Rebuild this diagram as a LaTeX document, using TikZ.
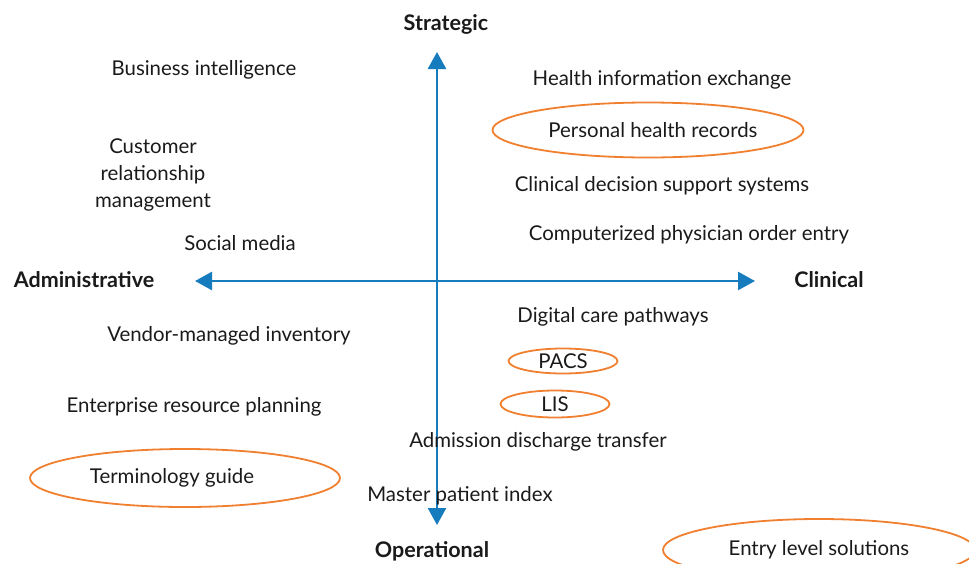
\documentclass[tikz,border=0pt]{standalone}
\usepackage{fontspec}
\setmainfont{Lato}
\usetikzlibrary{arrows.meta,shapes.geometric}
\definecolor{axisblue}{RGB}{22,124,190}
\definecolor{ringorange}{RGB}{240,128,48}
\definecolor{textblack}{RGB}{26,26,26}

\begin{document}
\begin{tikzpicture}[x=1pt,y=-1pt,
    item/.style={text=textblack,font=\fontsize{20.4}{27}\selectfont,align=center,inner sep=0pt},
    pole/.style={item,font=\fontsize{21.5}{27}\selectfont\bfseries},
    ring/.style={item,ellipse,draw=ringorange,line width=1.8pt},
    axis/.style={axisblue,line width=2.6pt,{Triangle[length=17pt,width=18pt]}-{Triangle[length=17pt,width=18pt]}}]

        \useasboundingbox (0,0) rectangle (969,563);
        \clip (0,0) rectangle (969,563);

        %% axes
        \coordinate (top) at (437,52);
        \coordinate (bottom) at (437,525);
        \coordinate (left) at (195,281);
        \coordinate (right) at (755,281);
        \draw[axis] (bottom) -- (top); % vertical
        \draw[axis] (left) -- (right); % horizontal

        % poles
        \node[pole] (strategic) at (446,24) {Strategic};
        \node[pole] (administrative) at (84,280) {Administrative};
        \node[pole] (clinical) at (829,280) {Clinical};
        \node[pole] (operational) at (432,551) {Operational};

        % items
        \node[item] (bi) at (204,70) {Business intelligence};
        \node[item] (hie) at (662,80) {Health information exchange};
        \node[item] (crm) at (153,175) {Customer\\relationship\\management};
        \node[item] (cdss) at (662,186) {Clinical decision support systems};
        \node[item] (social) at (240,243) {Social media};
        \node[item] (cpoe) at (689,235) {Computerized physician order entry};
        \node[item] (pathways) at (613,317) {Digital care pathways};
        \node[item] (vmi) at (229,336) {Vendor-managed inventory};
        \node[item] (erp) at (194,407) {Enterprise resource planning};
        \node[item] (adt) at (538,442) {Admission discharge transfer};
        \node[item] (mpi) at (460,496) {Master patient index};

        % circled items
        \node[ring,minimum width=311pt,minimum height=55pt] (phr) at (648,130) {Personal health records\hspace*{-10pt}};
        \node[ring,minimum width=109pt,minimum height=25pt] (pacs) at (563,361) {PACS};
        \node[ring,minimum width=109pt,minimum height=27pt] (lis) at (555,404) {LIS};
        \node[ring,minimum width=310pt,minimum height=58pt] (terms) at (185,478) {\hspace*{-26pt}Terminology guide};
        \node[ring,minimum width=312pt,minimum height=62pt] (entry) at (819,550) {Entry level solutions};
    \end{tikzpicture}
\end{document}
